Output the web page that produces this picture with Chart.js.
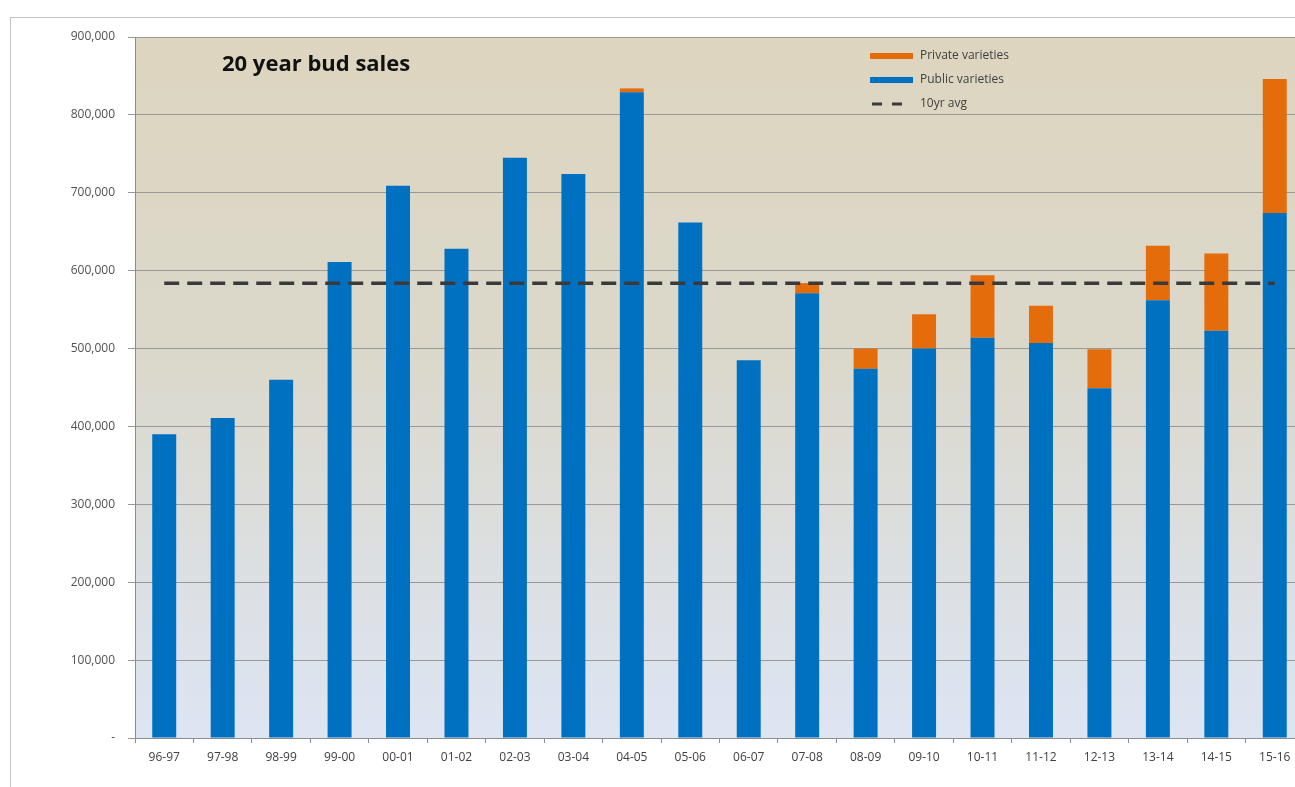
<!DOCTYPE html>
<html>
<head>
<meta charset="utf-8">
<script src="https://cdn.jsdelivr.net/npm/chart.js@4.4.1/dist/chart.umd.min.js"></script>
<style>
  html, body { margin: 0; padding: 0; background: #fff; overflow: hidden; }
  #wrap { position: absolute; left: 0; top: 0; width: 1320px; height: 800px; }
</style>
</head>
<body>
<div id="wrap"><canvas id="my-chart" width="1320" height="800"></canvas></div>
<script>
const seasons = ["96-97", "97-98", "98-99", "99-00", "00-01", "01-02", "02-03", "03-04", "04-05", "05-06",
  "06-07", "07-08", "08-09", "09-10", "10-11", "11-12", "12-13", "13-14", "14-15", "15-16"];
const publicValues = [390000, 411000, 460000, 611000, 709000, 628000, 745000, 724000, 829000, 662000,
  485000, 571000, 474000, 500000, 514000, 507000, 449000, 562000, 523000, 674000];
const privateValues = [0, 0, 0, 0, 0, 0, 0, 0, 5000, 0,
  0, 13000, 26000, 44000, 80000, 48000, 50000, 70000, 99000, 172000];
const avgValue = 584000;
const avgValues = seasons.map(() => avgValue);
const chartTitle = "20 year bud sales";

// background, frame, title and legend drawn inside the plot
const decor = {
  id: 'decor',
  beforeDraw(chart) {
    const { ctx, chartArea: a } = chart;
    ctx.save();
    ctx.strokeStyle = '#c4c4c4';
    ctx.lineWidth = 1;
    ctx.strokeRect(10.5, 17.5, 2000, 2000);
    const g = ctx.createLinearGradient(0, a.top, 0, a.bottom);
    g.addColorStop(0, '#ddd5bf');
    g.addColorStop(0.45, '#dbd8cb');
    g.addColorStop(1, '#dde5f3');
    ctx.fillStyle = g;
    ctx.fillRect(a.left, a.top, a.right - a.left, a.bottom - a.top);
    ctx.restore();
  },
  afterDraw(chart) {
    const { ctx } = chart;
    ctx.save();
    ctx.fillStyle = '#111';
    ctx.font = 'bold 22px "Open Sans", sans-serif';
    ctx.textBaseline = 'alphabetic';
    ctx.fillText(chartTitle, 222, 71);

    const ds = chart.data.datasets;
    const items = [ds[1], ds[0], ds[2]];
    ctx.font = '12px "Open Sans", sans-serif';
    ctx.textBaseline = 'middle';
    items.forEach((d, i) => {
      const y = 56 + i * 24;
      if (d.type === 'line') {
        ctx.strokeStyle = d.borderColor;
        ctx.lineWidth = 3;
        ctx.setLineDash([10, 10]);
        ctx.beginPath();
        ctx.moveTo(872, y);
        ctx.lineTo(912, y);
        ctx.stroke();
        ctx.setLineDash([]);
      } else {
        ctx.fillStyle = d.backgroundColor;
        ctx.fillRect(870, y - 3, 43, 6);
      }
      ctx.fillStyle = '#404040';
      ctx.fillText(d.label, 920, y);
    });
    ctx.restore();
  }
};

const ctx = document.getElementById('my-chart').getContext('2d');
const myChart = new Chart(ctx, {
  type: 'bar',
  data: {
    labels: seasons,
    datasets: [{
      label: 'Public varieties',
      data: publicValues,
      backgroundColor: '#0070c0',
      stack: 's',
      order: 2,
      barPercentage: 0.41,
      categoryPercentage: 1
    }, {
      label: 'Private varieties',
      data: privateValues,
      backgroundColor: '#e46c0a',
      stack: 's',
      order: 2,
      barPercentage: 0.41,
      categoryPercentage: 1
    }, {
      type: 'line',
      label: '10yr avg',
      data: avgValues,
      borderColor: '#3a3a3a',
      borderWidth: 3.5,
      borderDash: [15, 8],
      pointRadius: 0,
      order: 1
    }]
  },
  options: {
    responsive: false,
    animation: false,
    layout: { padding: { top: 37, left: 0, right: 16, bottom: 0 } },
    plugins: {
      legend: { display: false },
      tooltip: { enabled: false }
    },
    scales: {
      x: {
        stacked: true,
        grid: { display: true, drawOnChartArea: false, color: '#8c8c8c', tickLength: 5, offset: true },
        border: { color: '#8c8c8c' },
        ticks: { color: '#404040', font: { family: '"Open Sans", sans-serif', size: 12 }, padding: 7, maxRotation: 0 },
        afterFit(s) { s.height = 62; }
      },
      y: {
        stacked: true,
        min: 0,
        max: 900000,
        grid: { color: '#999999', tickLength: 7 },
        border: { color: '#8c8c8c' },
        ticks: {
          stepSize: 100000,
          color: '#505050',
          padding: 13,
          font: { family: '"Open Sans", sans-serif', size: 12 },
          callback: v => v === 0 ? '-' : v.toLocaleString('en-US')
        },
        afterFit(s) { s.width = 135; }
      }
    }
  },
  plugins: [decor]
});
</script>
</body>
</html>
